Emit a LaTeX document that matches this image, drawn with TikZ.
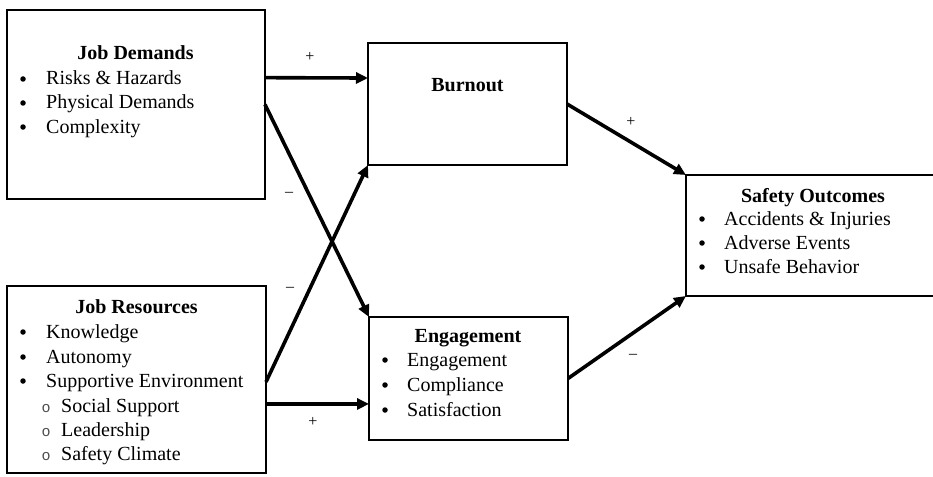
\documentclass[tikz,border=0pt]{standalone}
\usepackage{fontspec}
\setmainfont{Liberation Serif}
\newfontfamily\monofam{Liberation Mono}
\usetikzlibrary{calc,arrows.meta}
\begin{document}
\begin{tikzpicture}[x=1pt,y=-1pt,
  box/.style={draw,line width=2pt,rectangle,inner sep=0pt,outer sep=0pt,anchor=north west},
  head/.style={font=\fontsize{20}{24}\selectfont\bfseries,anchor=base,inner sep=0pt},
  item/.style={font=\fontsize{20}{24}\selectfont,anchor=base west,inner sep=0pt},
  dot/.style={circle,fill=black,inner sep=0pt,minimum size=5.5pt,yshift=6pt},
  ring/.style={font=\fontsize{15}{16}\monofam,text=black!70,anchor=base,inner sep=0pt},
  arr/.style={line width=3.6pt,-{Triangle[length=12pt,width=11pt]}},
  sign/.style={font=\fontsize{16}{18}\selectfont,inner sep=0pt}]
\useasboundingbox (0,0) rectangle (933,476);
\clip (0,0) rectangle (933,476);

% boxes
\node[box,minimum width=258pt,minimum height=189pt] (jd) at (7,10) {};
\node[box,minimum width=259pt,minimum height=187pt] (jr) at (7,286) {};
\node[box,minimum width=199pt,minimum height=122pt] (bo) at (368,43) {};
\node[box,minimum width=199pt,minimum height=123pt] (eg) at (369,317) {};
\node[box,minimum width=254pt,minimum height=121pt] (so) at (686,175) {};

% Job Demands
\node[head] (jdh) at (135.5,60) {Job Demands};
\node[dot] (jdd1) at (23,85) {};
\node[item] (jdi1) at (46,85) {Risks \& Hazards};
\node[dot] (jdd2) at (23,109) {};
\node[item] (jdi2) at (46,109) {Physical Demands};
\node[dot] (jdd3) at (23,133) {};
\node[item] (jdi3) at (46,133) {Complexity};

% Job Resources
\node[head] (jrh) at (136.5,313) {Job Resources};
\node[dot] (jrd1) at (23,338) {};
\node[item] (jri1) at (46,338) {Knowledge};
\node[dot] (jrd2) at (23,363) {};
\node[item] (jri2) at (46,363) {Autonomy};
\node[dot] (jrd3) at (23,387) {};
\node[item] (jri3) at (46,387) {Supportive Environment};
\node[ring] (jrr1) at (46,412) {o};
\node[item] (jrs1) at (61,412) {Social Support};
\node[ring] (jrr2) at (46,436) {o};
\node[item] (jrs2) at (61,436) {Leadership};
\node[ring] (jrr3) at (46,460) {o};
\node[item] (jrs3) at (61,460) {Safety Climate};

% Burnout
\node[head] (boh) at (467.5,92) {Burnout};

% Engagement
\node[head] (egh) at (468,342) {Engagement};
\node[dot] (egd1) at (385,366) {};
\node[item] (egi1) at (407,366) {Engagement};
\node[dot] (egd2) at (385,391) {};
\node[item] (egi2) at (407,391) {Compliance};
\node[dot] (egd3) at (385,416) {};
\node[item] (egi3) at (407,416) {Satisfaction};

% Safety Outcomes
\node[head] (soh) at (813,202) {Safety Outcomes};
\node[dot] (sod1) at (702,225) {};
\node[item] (soi1) at (724,225) {Accidents \& Injuries};
\node[dot] (sod2) at (702,249) {};
\node[item] (soi2) at (724,249) {Adverse Events};
\node[dot] (sod3) at (702,273) {};
\node[item] (soi3) at (724,273) {Unsafe Behavior};

% paths
\draw[arr] ($(jd.north east)!0.358!(jd.south east)$) -- ($(bo.north west)!0.287!(bo.south west)$);
\draw[arr] (jd.east) -- (eg.north west);
\draw[arr] ($(jr.north east)!0.513!(jr.south east)$) -- (bo.south west);
\draw[arr] ($(jr.north east)!0.631!(jr.south east)$) -- ($(eg.north west)!0.707!(eg.south west)$);
\draw[arr] (bo.east) -- (so.north west);
\draw[arr] (eg.east) -- (so.south west);

% signs
\node[sign] (s1) at (310,57) {+};
\node[sign] (s2) at (289,194) {--};
\node[sign] (s3) at (290,289) {--};
\node[sign] (s4) at (313,422) {+};
\node[sign] (s5) at (631,122) {+};
\node[sign] (s6) at (633,356) {--};
\end{tikzpicture}
\end{document}
